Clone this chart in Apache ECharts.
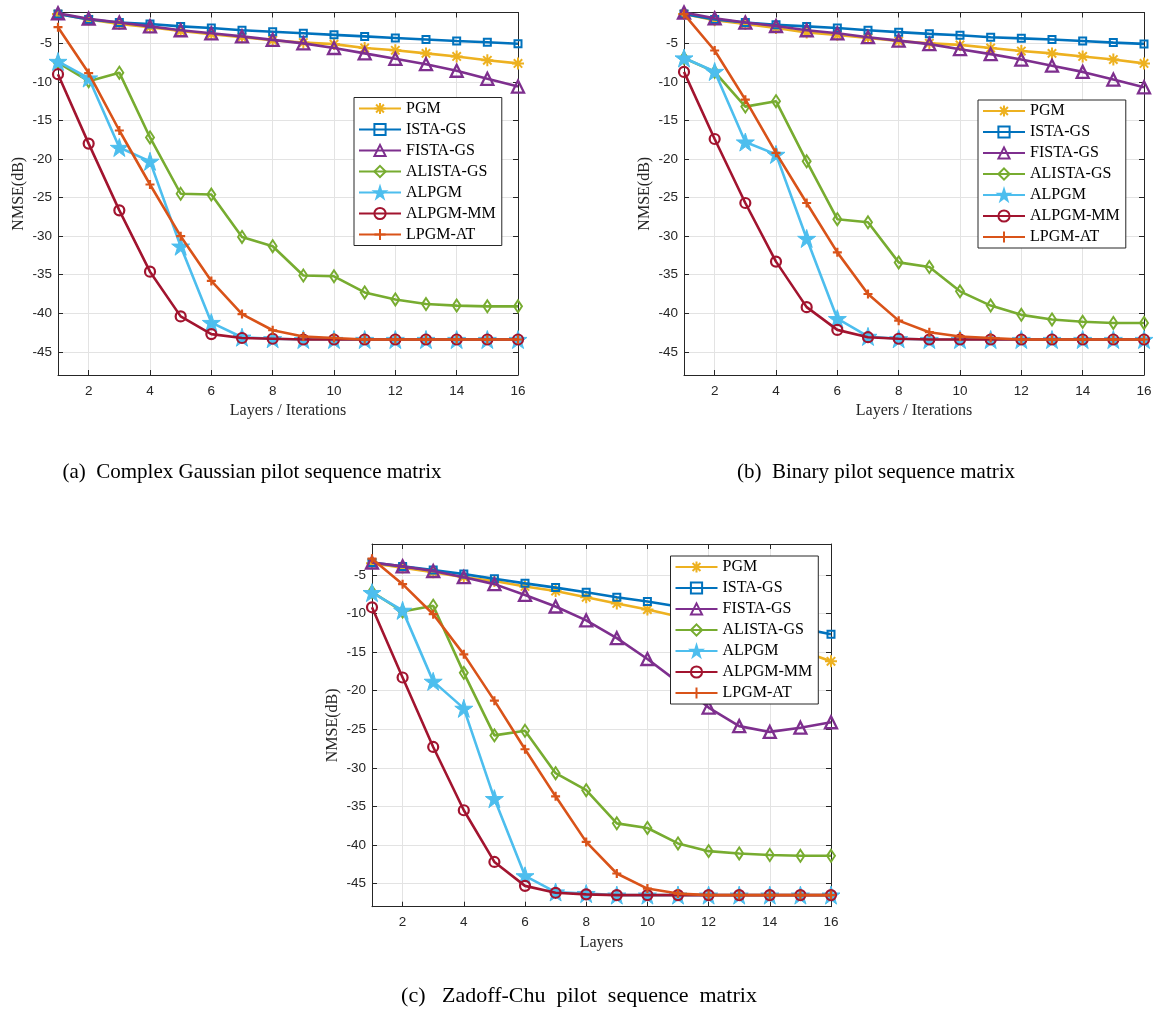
<!DOCTYPE html>
<html>
<head>
<meta charset="utf-8">
<script src="https://cdn.jsdelivr.net/npm/echarts@6/dist/echarts.min.js"></script>
<style>html,body{margin:0;padding:0;background:#fff}#c{width:1154px;height:1018px}</style>
</head>
<body>
<div id="c"></div>
<script>
// ---------- data ----------
const layers = [1,2,3,4,5,6,7,8,9,10,11,12,13,14,15,16];
const xTicks = [2,4,6,8,10,12,14,16];
const yTicks = [-45,-40,-35,-30,-25,-20,-15,-10,-5];
const seriesNames = ['PGM','ISTA-GS','FISTA-GS','ALISTA-GS','ALPGM','ALPGM-MM','LPGM-AT'];
const captions = ['(a)  Complex Gaussian pilot sequence matrix','(b)  Binary pilot sequence matrix','(c)   Zadoff-Chu  pilot  sequence  matrix'];
const xNames = ['Layers / Iterations','Layers / Iterations','Layers'];
const yName = 'NMSE(dB)';

// (a) Complex Gaussian
const gaussPGM    = [-1.2,-1.9,-2.5,-2.9,-3.4,-3.8,-4.2,-4.6,-4.9,-5.1,-5.6,-5.9,-6.3,-6.7,-7.2,-7.6];
const gaussISTA   = [-1.2,-1.9,-2.3,-2.5,-2.8,-3.0,-3.3,-3.5,-3.7,-3.9,-4.1,-4.3,-4.5,-4.7,-4.85,-5.05];
const gaussFISTA  = [-1.1,-1.8,-2.3,-2.8,-3.3,-3.7,-4.1,-4.55,-5.0,-5.6,-6.3,-7.0,-7.7,-8.55,-9.6,-10.6];
const gaussALISTA = [-7.5,-9.9,-8.8,-17.2,-24.5,-24.6,-30.1,-31.3,-35.1,-35.2,-37.3,-38.2,-38.8,-39.0,-39.1,-39.1];
const gaussALPGM  = [-7.35,-9.5,-18.5,-20.3,-31.3,-41.2,-43.1,-43.3,-43.4,-43.4,-43.4,-43.4,-43.4,-43.4,-43.4,-43.4];
const gaussMM     = [-9.0,-18.0,-26.65,-34.6,-40.4,-42.7,-43.2,-43.3,-43.4,-43.4,-43.4,-43.4,-43.4,-43.4,-43.4,-43.4];
const gaussAT     = [-2.9,-8.85,-16.3,-23.3,-30.0,-35.8,-40.1,-42.2,-43.0,-43.2,-43.4,-43.4,-43.4,-43.4,-43.4,-43.4];

// (b) Binary
const binPGM    = [-1.2,-2.0,-2.5,-3.0,-3.6,-3.9,-4.3,-4.7,-5.0,-5.2,-5.6,-6.0,-6.3,-6.7,-7.1,-7.6];
const binISTA   = [-1.2,-1.9,-2.3,-2.6,-2.8,-3.0,-3.3,-3.55,-3.77,-3.95,-4.2,-4.35,-4.5,-4.7,-4.9,-5.07];
const binFISTA  = [-1.0,-1.75,-2.3,-2.75,-3.3,-3.7,-4.2,-4.65,-5.1,-5.76,-6.4,-7.1,-7.9,-8.7,-9.7,-10.7];
const binALISTA = [-6.9,-8.7,-13.2,-12.5,-20.3,-27.8,-28.2,-33.4,-34.0,-37.15,-39.0,-40.2,-40.8,-41.1,-41.25,-41.25];
const binALPGM  = [-6.9,-8.65,-17.8,-19.4,-30.3,-40.7,-43.0,-43.3,-43.4,-43.4,-43.4,-43.4,-43.4,-43.4,-43.4,-43.4];
const binMM     = [-8.7,-17.4,-25.7,-33.3,-39.2,-42.15,-43.1,-43.3,-43.4,-43.4,-43.4,-43.4,-43.4,-43.4,-43.4,-43.4];
const binAT     = [-1.2,-5.93,-12.3,-19.2,-25.7,-32.1,-37.5,-40.95,-42.45,-43.0,-43.2,-43.4,-43.4,-43.4,-43.4,-43.4];

// (c) Zadoff-Chu
const zcPGM    = [-3.5,-4.06,-4.66,-5.3,-5.8,-6.5,-7.1,-7.9,-8.7,-9.5,-10.4,-11.4,-12.5,-13.6,-14.8,-16.2];
const zcISTA   = [-3.4,-3.9,-4.36,-4.9,-5.5,-6.1,-6.65,-7.25,-7.9,-8.46,-9.1,-9.8,-10.5,-11.2,-11.9,-12.7];
const zcFISTA  = [-3.4,-3.9,-4.5,-5.3,-6.2,-7.6,-9.1,-10.9,-13.2,-15.9,-18.9,-22.2,-24.6,-25.35,-24.8,-24.1];
const zcALISTA = [-7.2,-9.75,-9.0,-17.7,-25.8,-25.2,-30.7,-32.9,-37.2,-37.8,-39.8,-40.8,-41.1,-41.3,-41.4,-41.4];
const zcALPGM  = [-7.3,-9.6,-18.8,-22.3,-34.0,-44.0,-46.1,-46.3,-46.5,-46.5,-46.5,-46.5,-46.5,-46.5,-46.5,-46.5];
const zcMM     = [-9.2,-18.3,-27.3,-35.5,-42.2,-45.3,-46.2,-46.4,-46.5,-46.5,-46.5,-46.5,-46.5,-46.5,-46.5,-46.5];
const zcAT     = [-2.9,-6.2,-10.1,-15.3,-21.3,-27.6,-33.7,-39.6,-43.7,-45.65,-46.3,-46.5,-46.5,-46.5,-46.5,-46.5];

const panelData = [
  [gaussPGM, gaussISTA, gaussFISTA, gaussALISTA, gaussALPGM, gaussMM, gaussAT],
  [binPGM, binISTA, binFISTA, binALISTA, binALPGM, binMM, binAT],
  [zcPGM, zcISTA, zcFISTA, zcALISTA, zcALPGM, zcMM, zcAT]
];

// ---------- layout & style ----------
const SANS = '"Liberation Sans", Arial, Helvetica, sans-serif';
const SERIF = '"Liberation Serif", "Times New Roman", serif';
const AX = '#262626';
const GRIDC = '#e3e3e3';
const T = 'rgba(0,0,0,0)';
const ASTERISK = 'path://M10,0L10,20M0,10L20,10M3,3L17,17M3,17L17,3';
const PLUS = 'path://M10,0L10,20M0,10L20,10';
const STAR = 'path://M10,0L12.25,6.91L19.51,6.91L13.63,11.18L15.88,18.09L10,13.82L4.12,18.09L6.37,11.18L0.49,6.91L7.75,6.91Z';

const styles = [
  {c:'#EDB120', symbol: ASTERISK, size: 12, fill: T, bw: 2},
  {c:'#0072BD', symbol: 'rect', size: 7, fill: T, bw: 2},
  {c:'#7E2F8E', symbol: 'triangle', size: 12, fill: T, bw: 2.3},
  {c:'#77AC30', symbol: 'diamond', size: [8,12], fill: T, bw: 2},
  {c:'#4DBEEE', symbol: STAR, size: 18, fill: null, bw: 1},
  {c:'#A2142F', symbol: 'circle', size: 10, fill: T, bw: 2.2},
  {c:'#D95319', symbol: PLUS, size: 9, fill: T, bw: 2.2}
];

const grids = [
  {left: 58, top: 12.5, width: 460, height: 362.5},
  {left: 684, top: 12.5, width: 460, height: 362.5},
  {left: 372, top: 544, width: 459, height: 362.7}
];
const legendPos = [
  {left: 354, top: 97.5},
  {left: 978, top: 100},
  {left: 670.5, top: 556}
];
const captionPos = [[252, 472], [876, 472], [579, 996]];
const captionSize = [21, 21, 22];

const option = {
  animation: false,
  backgroundColor: '#fff',
  grid: [], xAxis: [], yAxis: [], series: [], legend: [],
  graphic: []
};

grids.forEach((g, gi) => {
  option.grid.push(Object.assign({outerBoundsMode: 'none', containLabel: false}, g));
  const base = {
    type: 'value', gridIndex: gi,
    axisLine: {show: true, onZero: false, lineStyle: {color: AX, width: 1}},
    nameTextStyle: {fontFamily: SERIF, fontSize: 16, color: AX},
  };
  // bottom x
  option.xAxis.push(Object.assign({}, base, {
    min: 1, max: 16, position: 'bottom',
    name: xNames[gi], nameLocation: 'middle', nameGap: 28,
    axisTick: {show: true, inside: true, length: 5, customValues: xTicks, lineStyle: {color: AX}},
    axisLabel: {show: true, customValues: xTicks, margin: 9, fontFamily: SANS, fontSize: 13.5, color: AX},
    splitLine: {show: true, lineStyle: {color: GRIDC, width: 1}}
  }));
  // top x (box)
  option.xAxis.push(Object.assign({}, base, {
    min: 1, max: 16, position: 'top',
    axisTick: {show: true, inside: true, length: 5, customValues: xTicks, lineStyle: {color: AX}},
    axisLabel: {show: false, customValues: xTicks},
    splitLine: {show: false}
  }));
  // left y
  option.yAxis.push(Object.assign({}, base, {
    min: -48, max: -1, position: 'left',
    name: yName, nameLocation: 'middle', nameGap: 31,
    axisTick: {show: true, inside: true, length: 5, customValues: yTicks, lineStyle: {color: AX}},
    axisLabel: {show: true, customValues: yTicks, margin: 6, fontFamily: SANS, fontSize: 13.5, color: AX},
    splitLine: {show: true, lineStyle: {color: GRIDC, width: 1}}
  }));
  // right y (box)
  option.yAxis.push(Object.assign({}, base, {
    min: -48, max: -1, position: 'right',
    axisTick: {show: true, inside: true, length: 5, customValues: yTicks, lineStyle: {color: AX}},
    axisLabel: {show: false, customValues: yTicks},
    splitLine: {show: false}
  }));

  panelData[gi].forEach((arr, si) => {
    const s = styles[si];
    option.series.push({
      type: 'line', name: seriesNames[si],
      xAxisIndex: gi * 2, yAxisIndex: gi * 2,
      data: layers.map((x, i) => [x, arr[i]]),
      symbol: s.symbol, symbolSize: s.size, showAllSymbol: true,
      lineStyle: {color: s.c, width: 2.6},
      itemStyle: {color: s.fill === null ? s.c : s.fill, borderColor: s.c, borderWidth: s.bw},
      emphasis: {disabled: true},
      z: 2 + si * 0.01
    });
  });

  option.legend.push(Object.assign({
    orient: 'vertical',
    data: seriesNames,
    backgroundColor: '#fff',
    borderColor: AX, borderWidth: 1, borderRadius: 0,
    padding: [3, 6, 3, 4],
    itemGap: 5, itemWidth: 42, itemHeight: 14,
    textStyle: {fontFamily: SERIF, fontSize: 16, color: '#000'},
    selectedMode: false,
    z: 10
  }, legendPos[gi]));

  option.graphic.push({
    type: 'text', x: captionPos[gi][0], y: captionPos[gi][1],
    style: {text: captions[gi], fontFamily: SERIF, fontSize: captionSize[gi], fill: '#000', align: 'center', verticalAlign: 'middle'}
  });
});

const chart = echarts.init(document.getElementById('c'), null, {renderer: 'canvas'});
chart.setOption(option);
</script>
</body>
</html>
